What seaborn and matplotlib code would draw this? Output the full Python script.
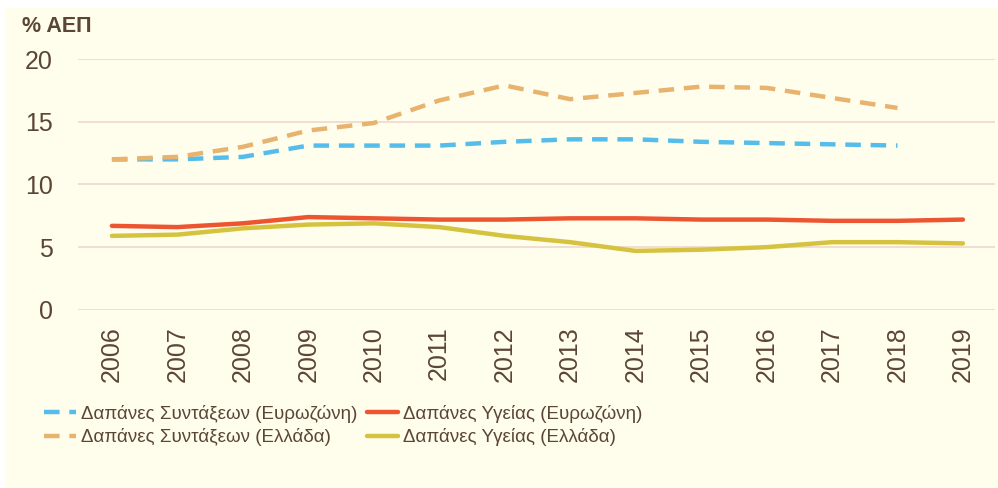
import numpy as np
import pandas as pd
import seaborn as sns
from matplotlib import pyplot as plt
from matplotlib.lines import Line2D
from matplotlib.patches import Rectangle

# values (% of GDP)
years = [str(y) for y in range(2006, 2020)]
pensions_ez = [12.0, 12.0, 12.2, 13.1, 13.1, 13.1, 13.4, 13.6, 13.6, 13.4, 13.3, 13.2, 13.1, np.nan]
pensions_gr = [12.0, 12.2, 13.0, 14.3, 14.9, 16.7, 17.9, 16.8, 17.3, 17.8, 17.7, 16.9, 16.1, np.nan]
health_ez = [6.7, 6.6, 6.9, 7.4, 7.3, 7.2, 7.2, 7.3, 7.3, 7.2, 7.2, 7.1, 7.1, 7.2]
health_gr = [5.9, 6.0, 6.5, 6.8, 6.9, 6.6, 5.9, 5.4, 4.7, 4.8, 5.0, 5.4, 5.4, 5.3]

series_names = [
    "Δαπάνες Συντάξεων (Ευρωζώνη)",
    "Δαπάνες Συντάξεων (Ελλάδα)",
    "Δαπάνες Υγείας (Ευρωζώνη)",
    "Δαπάνες Υγείας (Ελλάδα)",
]
series_values = [pensions_ez, pensions_gr, health_ez, health_gr]
colors = ["#55BDEA", "#E7B36E", "#EC5530", "#D5C33F"]
dash_styles = [(3.5, 2.2), (3.5, 2.2), "", ""]

BG = "#FFFDEC"
TXT = "#5B4636"
GRID = "#F1D6CC"

rows = []
for name, vals in zip(series_names, series_values):
    for i, v in enumerate(vals):
        rows.append({"year": i, "value": v, "series": name})
df = pd.DataFrame(rows).dropna()

sns.set_style("white")
plt.rcParams["font.family"] = ["Liberation Sans", "DejaVu Sans"]

fig = plt.figure(figsize=(9.98, 4.88), dpi=100)
fig.patch.set_facecolor("white")
fig.patches.append(Rectangle((6 / 998, 0), 1, 480 / 488, transform=fig.transFigure,
                             facecolor=BG, edgecolor="none", zorder=-10))
ax = fig.add_axes([0.078, 0.365, 0.919, 0.514])
ax.set_facecolor(BG)

sns.lineplot(data=df, x="year", y="value", hue="series", style="series",
             palette=dict(zip(series_names, colors)),
             dashes=dict(zip(series_names, dash_styles)),
             linewidth=3.2, ax=ax, legend=False)

ax.set_ylim(0, 20)
ax.set_yticks([0, 5, 10, 15, 20])
ax.set_xlim(-0.52, 13.49)
ax.set_xticks(range(len(years)))
ax.set_xticklabels(years, rotation=90)
ax.tick_params(axis="both", length=0, labelsize=18, labelcolor=TXT, pad=12)
ax.tick_params(axis="y", pad=18)
ax.grid(axis="y", color=GRID, linewidth=1.2)
ax.set_axisbelow(True)
ax.set_xlabel("")
ax.set_ylabel("")
sns.despine(ax=ax, left=True, bottom=True)

fig.text(0.022, 0.945, "% ΑΕΠ", fontsize=15.5, fontweight="bold", color=TXT,
         ha="left", va="center")

handles = [Line2D([0], [0], color=c, lw=3.2, dashes=d if d else (None, None),
                  linestyle="--" if d else "-")
           for c, d in zip(colors, dash_styles)]
leg = fig.legend(handles, series_names, ncol=2, loc="upper left",
                 bbox_to_anchor=(0.035, 0.19), frameon=False, fontsize=13.5,
                 handlelength=1.7, handletextpad=0.25, columnspacing=0.5,
                 labelspacing=0.3, borderpad=0)
for t in leg.get_texts():
    t.set_color(TXT)

plt.savefig("out.png", dpi=100, facecolor=fig.get_facecolor())
